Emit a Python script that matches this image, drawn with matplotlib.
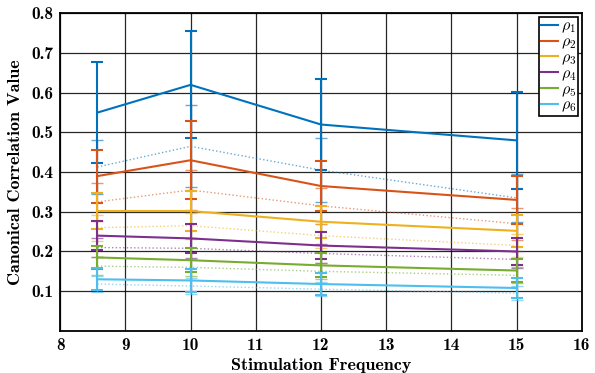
import matplotlib
matplotlib.use("Agg")
import matplotlib.pyplot as plt
import numpy as np

plt.rcParams["font.family"] = "cmb10"
plt.rcParams["mathtext.fontset"] = "cm"
plt.rcParams["axes.unicode_minus"] = False

freqs = [8.57, 10, 12, 15]
labels = [r"$\rho_1$", r"$\rho_2$", r"$\rho_3$", r"$\rho_4$", r"$\rho_5$", r"$\rho_6$"]
colors = ["#0072BD", "#D95319", "#EDB120", "#7E2F8E", "#77AC30", "#4DBEEE"]

# mean canonical correlations (solid)
rho_mean = [
    [0.550, 0.620, 0.520, 0.480],
    [0.390, 0.430, 0.365, 0.330],
    [0.302, 0.302, 0.275, 0.252],
    [0.240, 0.233, 0.215, 0.200],
    [0.185, 0.178, 0.165, 0.152],
    [0.130, 0.127, 0.118, 0.108],
]
rho_err = [
    [0.127, 0.135, 0.115, 0.123],
    [0.067, 0.098, 0.063, 0.060],
    [0.045, 0.050, 0.040, 0.040],
    [0.037, 0.037, 0.033, 0.033],
    [0.030, 0.030, 0.030, 0.028],
    [0.028, 0.030, 0.028, 0.025],
]

# second condition (dotted)
rho2_mean = [
    [0.413, 0.465, 0.405, 0.335],
    [0.325, 0.355, 0.315, 0.270],
    [0.260, 0.265, 0.240, 0.215],
    [0.210, 0.208, 0.195, 0.180],
    [0.163, 0.160, 0.150, 0.140],
    [0.118, 0.113, 0.105, 0.095],
]
rho2_err = [
    [0.068, 0.103, 0.080, 0.060],
    [0.047, 0.050, 0.045, 0.040],
    [0.033, 0.033, 0.030, 0.030],
    [0.025, 0.025, 0.025, 0.022],
    [0.022, 0.022, 0.020, 0.020],
    [0.020, 0.020, 0.018, 0.018],
]

fig = plt.figure(figsize=(5.95, 3.73), dpi=100)
ax = fig.add_axes([0.101, 0.113, 0.877, 0.851])

handles = []
for i in range(6):
    c = colors[i]
    ax.errorbar(freqs, rho2_mean[i], yerr=rho2_err[i], color=c, linestyle=":",
                linewidth=1.0, elinewidth=1.0, capsize=4, capthick=1.0, alpha=0.6, zorder=2)
    h = ax.errorbar(freqs, rho_mean[i], yerr=rho_err[i], color=c, linestyle="-",
                    linewidth=1.5, elinewidth=1.5, capsize=4, capthick=1.5, zorder=3)
    handles.append(h.lines[0])

ax.set_xlim(8, 16)
ax.set_ylim(0, 0.8)
ax.set_xticks(range(8, 17))
ax.set_yticks(np.arange(0.1, 0.81, 0.1))
ax.set_yticklabels(["0.1", "0.2", "0.3", "0.4", "0.5", "0.6", "0.7", "0.8"])
ax.tick_params(labelsize=12.5, length=0, pad=5)
ax.grid(True, color="black", linewidth=0.9, alpha=0.85, zorder=0)
ax.set_axisbelow(True)
for s in ax.spines.values():
    s.set_linewidth(1.3)

ax.set_xlabel("Stimulation Frequency", fontsize=13, labelpad=4)
ax.set_ylabel("Canonical Correlation Value", fontsize=13, labelpad=6)

leg = ax.legend(handles, labels, loc="upper right", fontsize=11.5, handlelength=1.1,
                handletextpad=0.15, labelspacing=0.0, borderpad=0.1,
                borderaxespad=0.25, fancybox=False, framealpha=1)
leg.get_frame().set_edgecolor("black")
leg.get_frame().set_linewidth(1.2)

fig.savefig("out.png", dpi=100)
